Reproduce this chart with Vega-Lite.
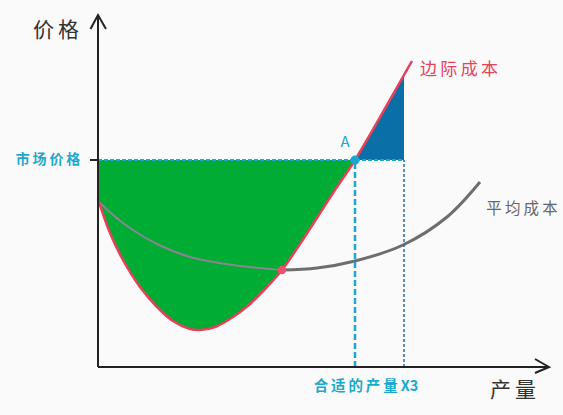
{
  "$schema": "https://vega.github.io/schema/vega-lite/v6.json",
  "width": 563,
  "height": 415,
  "autosize": {"type": "none"},
  "padding": 0,
  "background": "#fafafa",
  "config": {"view": {"stroke": null}, "text": {"font": "Noto Sans CJK SC"}},
  "datasets": {
    "mc": [
      {"x": 0, "y": 168}, {"x": 12, "y": 134}, {"x": 25, "y": 107}, {"x": 42, "y": 80},
      {"x": 59, "y": 60}, {"x": 75, "y": 46}, {"x": 92, "y": 38}, {"x": 102, "y": 37},
      {"x": 117, "y": 40}, {"x": 135, "y": 50}, {"x": 152, "y": 63}, {"x": 169, "y": 80},
      {"x": 184, "y": 97}, {"x": 202, "y": 123}, {"x": 235, "y": 174}, {"x": 257, "y": 207},
      {"x": 306, "y": 292}, {"x": 314, "y": 306}
    ],
    "ac": [
      {"x": 0, "y": 166}, {"x": 25, "y": 144}, {"x": 59, "y": 123}, {"x": 92, "y": 110},
      {"x": 135, "y": 102}, {"x": 184, "y": 97}, {"x": 219, "y": 99}, {"x": 257, "y": 106},
      {"x": 305, "y": 122}, {"x": 349, "y": 150}, {"x": 382, "y": 185}
    ],
    "axes": [
      {"g": "y", "o": 0, "x": 0, "y": 0}, {"g": "y", "o": 1, "x": 0, "y": 352},
      {"g": "x", "o": 0, "x": 0, "y": 0}, {"g": "x", "o": 1, "x": 451, "y": 0},
      {"g": "ya", "o": 0, "x": -7.5, "y": 338}, {"g": "ya", "o": 1, "x": 0, "y": 352}, {"g": "ya", "o": 2, "x": 8, "y": 338},
      {"g": "xa", "o": 0, "x": 437, "y": 8}, {"g": "xa", "o": 1, "x": 451, "y": 0}, {"g": "xa", "o": 2, "x": 437, "y": -6},
      {"g": "tick", "o": 0, "x": -8, "y": 207}, {"g": "tick", "o": 1, "x": 0, "y": 207}
    ],
    "labels": [
      {"t": "价\u2009格", "x": -42, "y": 336, "c": "#333333", "s": 21, "b": 0},
      {"t": "市\u2009场\u2009价\u2009格", "x": -50, "y": 207, "c": "#1aa9cc", "s": 14, "b": 1},
      {"t": "A", "x": 247, "y": 225, "c": "#1aa9cc", "s": 15, "b": 0},
      {"t": "边\u2009际\u2009成\u2009本", "x": 361, "y": 297, "c": "#e8405a", "s": 17, "b": 0},
      {"t": "平\u2009均\u2009成\u2009本", "x": 424, "y": 158, "c": "#666666", "s": 15.5, "b": 0},
      {"t": "合\u2009适\u2009的\u2009产\u2009量\u2009X3", "x": 268, "y": -20, "c": "#1aa9cc", "s": 14.5, "b": 1},
      {"t": "产\u2009量", "x": 415, "y": -24, "c": "#333333", "s": 21, "b": 0}
    ]
  },
  "encoding": {
    "x": {"field": "x", "type": "quantitative", "scale": {"domain": [-98, 465], "nice": false, "zero": false}, "axis": null},
    "y": {"field": "y", "type": "quantitative", "scale": {"domain": [-48, 367], "nice": false, "zero": false}, "axis": null}
  },
  "layer": [
    {
      "data": {"name": "mc"},
      "transform": [{"filter": "datum.x <= 257"}],
      "mark": {"type": "area", "interpolate": "catmull-rom", "color": "#00ac33"},
      "encoding": {"y2": {"datum": 207}}
    },
    {
      "data": {"name": "mc"},
      "transform": [{"filter": "datum.x >= 257 && datum.x <= 306"}],
      "mark": {"type": "area", "color": "#0a6fa6"},
      "encoding": {"y2": {"datum": 207}}
    },
    {
      "data": {"name": "ac"},
      "transform": [{"filter": "datum.x <= 184"}],
      "mark": {"type": "line", "interpolate": "catmull-rom", "color": "#8a8590", "strokeWidth": 2},
      "encoding": {}
    },
    {
      "data": {"name": "ac"},
      "transform": [{"filter": "datum.x >= 184"}],
      "mark": {"type": "line", "interpolate": "catmull-rom", "color": "#6e6e6e", "strokeWidth": 3},
      "encoding": {}
    },
    {
      "data": {"values": [{"x": 0, "y": 207, "x2": 306, "y2": 207}]},
      "mark": {"type": "rule", "color": "#1aa9cc", "strokeWidth": 2, "strokeDash": [4, 2]},
      "encoding": {"x2": {"field": "x2"}, "y2": {"field": "y2"}}
    },
    {
      "data": {"values": [{"x": 257, "y": 0, "x2": 257, "y2": 207}]},
      "mark": {"type": "rule", "color": "#1aa9cc", "strokeWidth": 2.5, "strokeDash": [6, 3]},
      "encoding": {"x2": {"field": "x2"}, "y2": {"field": "y2"}}
    },
    {
      "data": {"values": [{"x": 306, "y": 0, "x2": 306, "y2": 207}]},
      "mark": {"type": "rule", "color": "#1f6fa8", "strokeWidth": 1.5, "strokeDash": [3, 2]},
      "encoding": {"x2": {"field": "x2"}, "y2": {"field": "y2"}}
    },
    {
      "data": {"name": "mc"},
      "mark": {"type": "line", "interpolate": "catmull-rom", "color": "#e8405a", "strokeWidth": 2.5},
      "encoding": {}
    },
    {
      "data": {"name": "axes"},
      "mark": {"type": "line", "color": "#222222", "strokeWidth": 2},
      "encoding": {"detail": {"field": "g"}, "order": {"field": "o"}}
    },
    {
      "data": {"values": [{"x": 184, "y": 97}]},
      "mark": {"type": "circle", "color": "#f0506a", "size": 70, "opacity": 1},
      "encoding": {}
    },
    {
      "data": {"values": [{"x": 257, "y": 207}]},
      "mark": {"type": "circle", "color": "#1aa9cc", "size": 80, "opacity": 1},
      "encoding": {}
    },
    {
      "data": {"name": "labels"},
      "transform": [{"filter": "datum.b == 0"}],
      "mark": {"type": "text", "align": "center", "baseline": "middle"},
      "encoding": {
        "text": {"field": "t"},
        "color": {"field": "c", "type": "nominal", "scale": null},
        "size": {"field": "s", "type": "quantitative", "scale": null}
      }
    },
    {
      "data": {"name": "labels"},
      "transform": [{"filter": "datum.b == 1"}],
      "mark": {"type": "text", "align": "center", "baseline": "middle", "fontWeight": "bold"},
      "encoding": {
        "text": {"field": "t"},
        "color": {"field": "c", "type": "nominal", "scale": null},
        "size": {"field": "s", "type": "quantitative", "scale": null}
      }
    }
  ]
}
